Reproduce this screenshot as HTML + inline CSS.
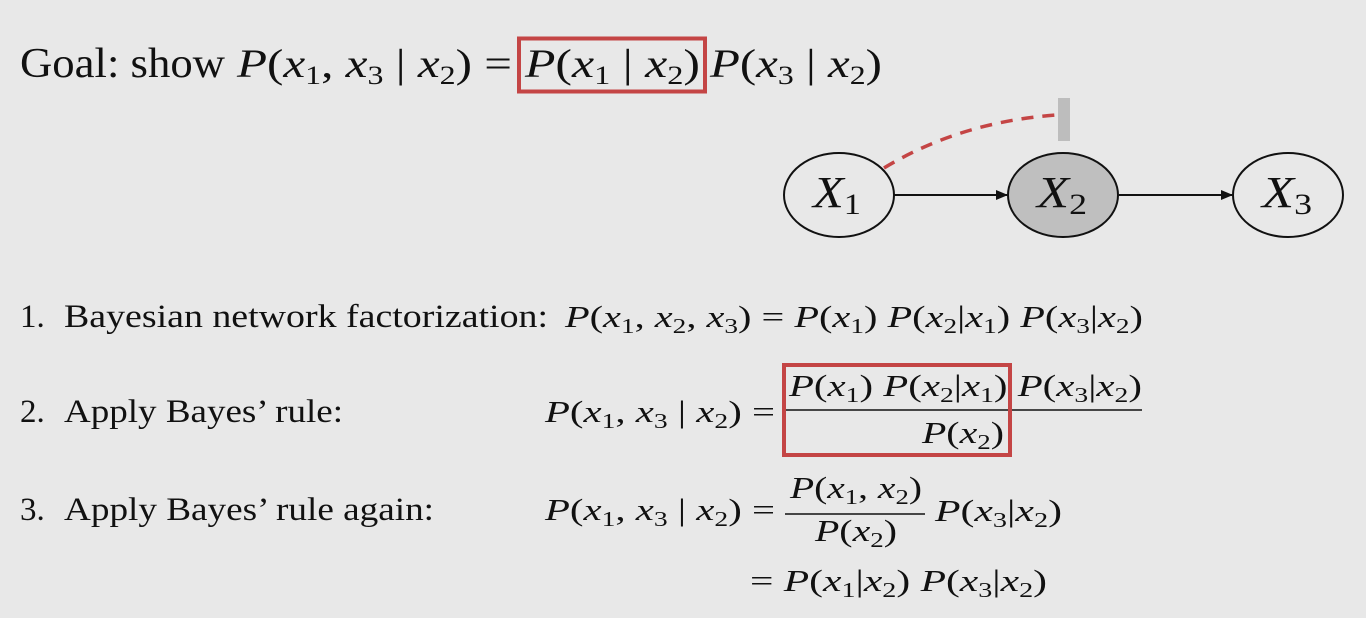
<!DOCTYPE html>
<html><head><meta charset="utf-8">
<style>
html,body{margin:0;padding:0;background:#e8e8e8;}
svg{display:block;}
text{font-family:"Liberation Serif",serif;fill:#111;}
.m{font-style:italic;}
</style></head>
<body>
<svg width="1366" height="618" viewBox="0 0 1366 618">
<rect width="1366" height="618" fill="#e8e8e8"/>
<defs><marker id="ah" markerWidth="12" markerHeight="10" refX="11" refY="5" orient="auto" markerUnits="userSpaceOnUse"><path d="M0,0 L12,5 L0,10 Z" fill="#111"/></marker></defs>

<g>
<text x="20" y="77" font-size="42" textLength="205" lengthAdjust="spacingAndGlyphs">Goal: show</text>
<text x="237" y="77" font-size="40" textLength="275" lengthAdjust="spacingAndGlyphs"><tspan class="m">P</tspan>(<tspan class="m">x</tspan><tspan font-size="26" dy="7">1</tspan><tspan dy="-7">, </tspan><tspan class="m">x</tspan><tspan font-size="26" dy="7">3</tspan><tspan dy="-7"> | </tspan><tspan class="m">x</tspan><tspan font-size="26" dy="7">2</tspan><tspan dy="-7">) =</tspan></text>
<text x="525" y="77" font-size="40" textLength="175" lengthAdjust="spacingAndGlyphs"><tspan class="m">P</tspan>(<tspan class="m">x</tspan><tspan font-size="26" dy="7">1</tspan><tspan dy="-7"> | </tspan><tspan class="m">x</tspan><tspan font-size="26" dy="7">2</tspan><tspan dy="-7">)</tspan></text>
<text x="710" y="77" font-size="40" textLength="172" lengthAdjust="spacingAndGlyphs"><tspan class="m">P</tspan>(<tspan class="m">x</tspan><tspan font-size="26" dy="7">3</tspan><tspan dy="-7"> | </tspan><tspan class="m">x</tspan><tspan font-size="26" dy="7">2</tspan><tspan dy="-7">)</tspan></text>
<rect x="519" y="38.5" width="186" height="53" fill="none" stroke="#c44545" stroke-width="4"/>
</g>

<g>
<path d="M884,168 Q960,122 1056,115" fill="none" stroke="#c44545" stroke-width="3.5" stroke-dasharray="12,9"/>
<rect x="1058" y="98" width="12" height="43" fill="#bdbdbd"/>
<line x1="894" y1="195" x2="1007" y2="195" stroke="#111" stroke-width="2" marker-end="url(#ah)"/>
<line x1="1119" y1="195" x2="1232" y2="195" stroke="#111" stroke-width="2" marker-end="url(#ah)"/>
<ellipse cx="839" cy="195" rx="55" ry="42" fill="#e8e8e8" stroke="#111" stroke-width="2"/>
<ellipse cx="1063" cy="195" rx="55" ry="42" fill="#bfbfbf" stroke="#111" stroke-width="2"/>
<ellipse cx="1288" cy="195" rx="55" ry="42" fill="#e8e8e8" stroke="#111" stroke-width="2"/>
<text x="813" y="207" font-size="44" textLength="48" lengthAdjust="spacingAndGlyphs"><tspan class="m">X</tspan><tspan font-size="30" dy="7">1</tspan></text>
<text x="1037" y="207" font-size="44" textLength="50" lengthAdjust="spacingAndGlyphs"><tspan class="m">X</tspan><tspan font-size="30" dy="7">2</tspan></text>
<text x="1262" y="207" font-size="44" textLength="50" lengthAdjust="spacingAndGlyphs"><tspan class="m">X</tspan><tspan font-size="30" dy="7">3</tspan></text>
</g>

<g>
<text x="20" y="327" font-size="33">1.</text>
<text x="64" y="327" font-size="33" textLength="484" lengthAdjust="spacingAndGlyphs">Bayesian network factorization:</text>
<text x="565" y="327" font-size="31" textLength="578" lengthAdjust="spacingAndGlyphs"><tspan class="m">P</tspan>(<tspan class="m">x</tspan><tspan font-size="21" dy="6">1</tspan><tspan dy="-6">, </tspan><tspan class="m">x</tspan><tspan font-size="21" dy="6">2</tspan><tspan dy="-6">, </tspan><tspan class="m">x</tspan><tspan font-size="21" dy="6">3</tspan><tspan dy="-6">) = </tspan><tspan class="m">P</tspan>(<tspan class="m">x</tspan><tspan font-size="21" dy="6">1</tspan><tspan dy="-6">) </tspan><tspan class="m">P</tspan>(<tspan class="m">x</tspan><tspan font-size="21" dy="6">2</tspan><tspan dy="-6">|</tspan><tspan class="m">x</tspan><tspan font-size="21" dy="6">1</tspan><tspan dy="-6">) </tspan><tspan class="m">P</tspan>(<tspan class="m">x</tspan><tspan font-size="21" dy="6">3</tspan><tspan dy="-6">|</tspan><tspan class="m">x</tspan><tspan font-size="21" dy="6">2</tspan><tspan dy="-6">)</tspan></text>
</g>

<g>
<text x="20" y="422" font-size="33">2.</text>
<text x="64" y="422" font-size="33" textLength="279" lengthAdjust="spacingAndGlyphs">Apply Bayes’ rule:</text>
<text x="545" y="422" font-size="31" textLength="230" lengthAdjust="spacingAndGlyphs"><tspan class="m">P</tspan>(<tspan class="m">x</tspan><tspan font-size="21" dy="6">1</tspan><tspan dy="-6">, </tspan><tspan class="m">x</tspan><tspan font-size="21" dy="6">3</tspan><tspan dy="-6"> | </tspan><tspan class="m">x</tspan><tspan font-size="21" dy="6">2</tspan><tspan dy="-6">) =</tspan></text>
<text x="789" y="396" font-size="31" textLength="353" lengthAdjust="spacingAndGlyphs"><tspan class="m">P</tspan>(<tspan class="m">x</tspan><tspan font-size="21" dy="6">1</tspan><tspan dy="-6">) </tspan><tspan class="m">P</tspan>(<tspan class="m">x</tspan><tspan font-size="21" dy="6">2</tspan><tspan dy="-6">|</tspan><tspan class="m">x</tspan><tspan font-size="21" dy="6">1</tspan><tspan dy="-6">) </tspan><tspan class="m">P</tspan>(<tspan class="m">x</tspan><tspan font-size="21" dy="6">3</tspan><tspan dy="-6">|</tspan><tspan class="m">x</tspan><tspan font-size="21" dy="6">2</tspan><tspan dy="-6">)</tspan></text>
<line x1="785" y1="410" x2="1142" y2="410" stroke="#111" stroke-width="1.5"/>
<text x="922" y="443" font-size="31" textLength="82" lengthAdjust="spacingAndGlyphs"><tspan class="m">P</tspan>(<tspan class="m">x</tspan><tspan font-size="21" dy="6">2</tspan><tspan dy="-6">)</tspan></text>
<rect x="784" y="365" width="226" height="90" fill="none" stroke="#c44545" stroke-width="4"/>
</g>

<g>
<text x="20" y="520" font-size="33">3.</text>
<text x="64" y="520" font-size="33" textLength="370" lengthAdjust="spacingAndGlyphs">Apply Bayes’ rule again:</text>
<text x="545" y="520" font-size="31" textLength="230" lengthAdjust="spacingAndGlyphs"><tspan class="m">P</tspan>(<tspan class="m">x</tspan><tspan font-size="21" dy="6">1</tspan><tspan dy="-6">, </tspan><tspan class="m">x</tspan><tspan font-size="21" dy="6">3</tspan><tspan dy="-6"> | </tspan><tspan class="m">x</tspan><tspan font-size="21" dy="6">2</tspan><tspan dy="-6">) =</tspan></text>
<text x="790" y="498" font-size="31" textLength="132" lengthAdjust="spacingAndGlyphs"><tspan class="m">P</tspan>(<tspan class="m">x</tspan><tspan font-size="21" dy="6">1</tspan><tspan dy="-6">, </tspan><tspan class="m">x</tspan><tspan font-size="21" dy="6">2</tspan><tspan dy="-6">)</tspan></text>
<line x1="785" y1="514" x2="925" y2="514" stroke="#111" stroke-width="1.5"/>
<text x="815" y="541" font-size="31" textLength="82" lengthAdjust="spacingAndGlyphs"><tspan class="m">P</tspan>(<tspan class="m">x</tspan><tspan font-size="21" dy="6">2</tspan><tspan dy="-6">)</tspan></text>
<text x="935" y="521" font-size="31" textLength="127" lengthAdjust="spacingAndGlyphs"><tspan class="m">P</tspan>(<tspan class="m">x</tspan><tspan font-size="21" dy="6">3</tspan><tspan dy="-6">|</tspan><tspan class="m">x</tspan><tspan font-size="21" dy="6">2</tspan><tspan dy="-6">)</tspan></text>
<text x="750" y="591" font-size="31" textLength="297" lengthAdjust="spacingAndGlyphs"><tspan>= </tspan><tspan class="m">P</tspan>(<tspan class="m">x</tspan><tspan font-size="21" dy="6">1</tspan><tspan dy="-6">|</tspan><tspan class="m">x</tspan><tspan font-size="21" dy="6">2</tspan><tspan dy="-6">) </tspan><tspan class="m">P</tspan>(<tspan class="m">x</tspan><tspan font-size="21" dy="6">3</tspan><tspan dy="-6">|</tspan><tspan class="m">x</tspan><tspan font-size="21" dy="6">2</tspan><tspan dy="-6">)</tspan></text>
</g>
</svg>
</body></html>
